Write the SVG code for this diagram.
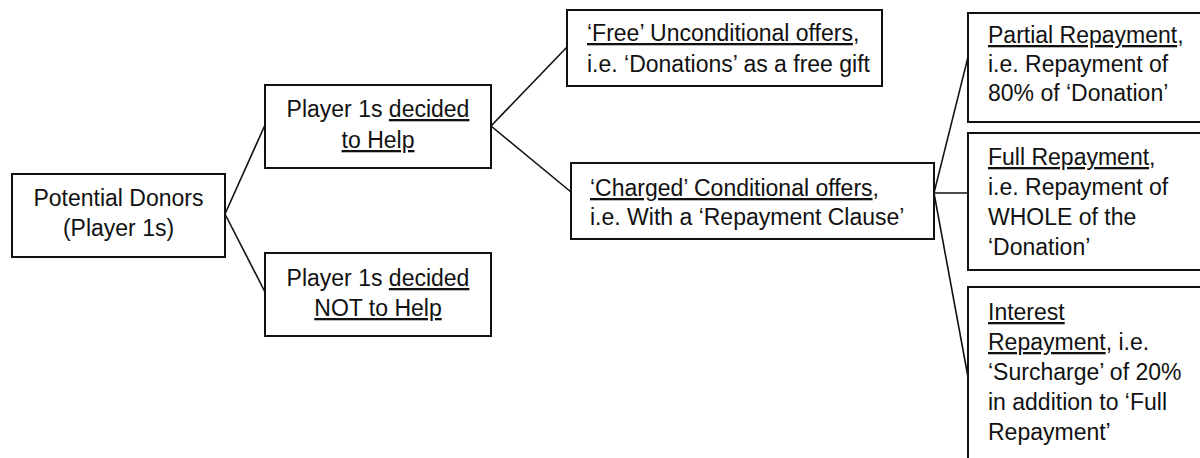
<svg xmlns="http://www.w3.org/2000/svg" width="1200" height="458" viewBox="0 0 1200 458">
  <style>
    .box { fill: #ffffff; stroke: #111111; stroke-width: 2; }
    .conn { fill: none; stroke: #111111; stroke-width: 1.6; }
    text { font-family: "Liberation Sans", Arial, sans-serif; font-size: 23px; fill: #111111; }
    .c { text-anchor: middle; }
    .u { text-decoration: underline; }
  </style>
  <rect x="0" y="0" width="1200" height="458" fill="#ffffff"/>
  <g id="connectors">
    <line class="conn" x1="225" y1="214" x2="265" y2="125"/>
    <line class="conn" x1="225" y1="214" x2="265" y2="292"/>
    <line class="conn" x1="491" y1="126" x2="567" y2="47"/>
    <line class="conn" x1="491" y1="126" x2="571" y2="192"/>
    <line class="conn" x1="934" y1="193" x2="968" y2="57"/>
    <line class="conn" x1="934" y1="193" x2="968" y2="193"/>
    <line class="conn" x1="934" y1="193" x2="968" y2="377"/>
  </g>
  <g id="node-donors">
    <rect class="box" x="12" y="174" width="213" height="83"/>
    <text class="c" x="118.5" y="206">Potential Donors</text>
    <text class="c" x="118.5" y="236">(Player 1s)</text>
  </g>
  <g id="node-help">
    <rect class="box" x="265" y="85" width="226" height="83"/>
    <text class="c" x="378" y="117">Player 1s <tspan class="u">decided</tspan></text>
    <text class="c" x="378" y="148"><tspan class="u">to Help</tspan></text>
  </g>
  <g id="node-nohelp">
    <rect class="box" x="265" y="253" width="226" height="83"/>
    <text class="c" x="378" y="286">Player 1s <tspan class="u">decided</tspan></text>
    <text class="c" x="378" y="316"><tspan class="u">NOT to Help</tspan></text>
  </g>
  <g id="node-free">
    <rect class="box" x="567" y="10" width="315" height="76"/>
    <text x="587" y="41"><tspan class="u">‘Free’ Unconditional offers</tspan>,</text>
    <text x="587" y="72">i.e. ‘Donations’ as a free gift</text>
  </g>
  <g id="node-charged">
    <rect class="box" x="571" y="163" width="363" height="76"/>
    <text x="590" y="196"><tspan class="u">‘Charged’ Conditional offers</tspan>,</text>
    <text x="590" y="225">i.e. With a ‘Repayment Clause’</text>
  </g>
  <g id="node-partial">
    <rect class="box" x="968" y="13" width="240" height="109"/>
    <text x="988" y="43"><tspan class="u">Partial Repayment</tspan>,</text>
    <text x="988" y="72">i.e. Repayment of</text>
    <text x="988" y="101">80% of ‘Donation’</text>
  </g>
  <g id="node-full">
    <rect class="box" x="968" y="133" width="240" height="137"/>
    <text x="988" y="165"><tspan class="u">Full Repayment</tspan>,</text>
    <text x="988" y="195">i.e. Repayment of</text>
    <text x="988" y="225">WHOLE of the</text>
    <text x="988" y="255">‘Donation’</text>
  </g>
  <g id="node-interest">
    <rect class="box" x="968" y="287" width="240" height="190"/>
    <text x="988" y="320"><tspan class="u">Interest</tspan></text>
    <text x="988" y="350"><tspan class="u">Repayment</tspan>, i.e.</text>
    <text x="988" y="380">‘Surcharge’ of 20%</text>
    <text x="988" y="410">in addition to ‘Full</text>
    <text x="988" y="440">Repayment’</text>
  </g>
</svg>
